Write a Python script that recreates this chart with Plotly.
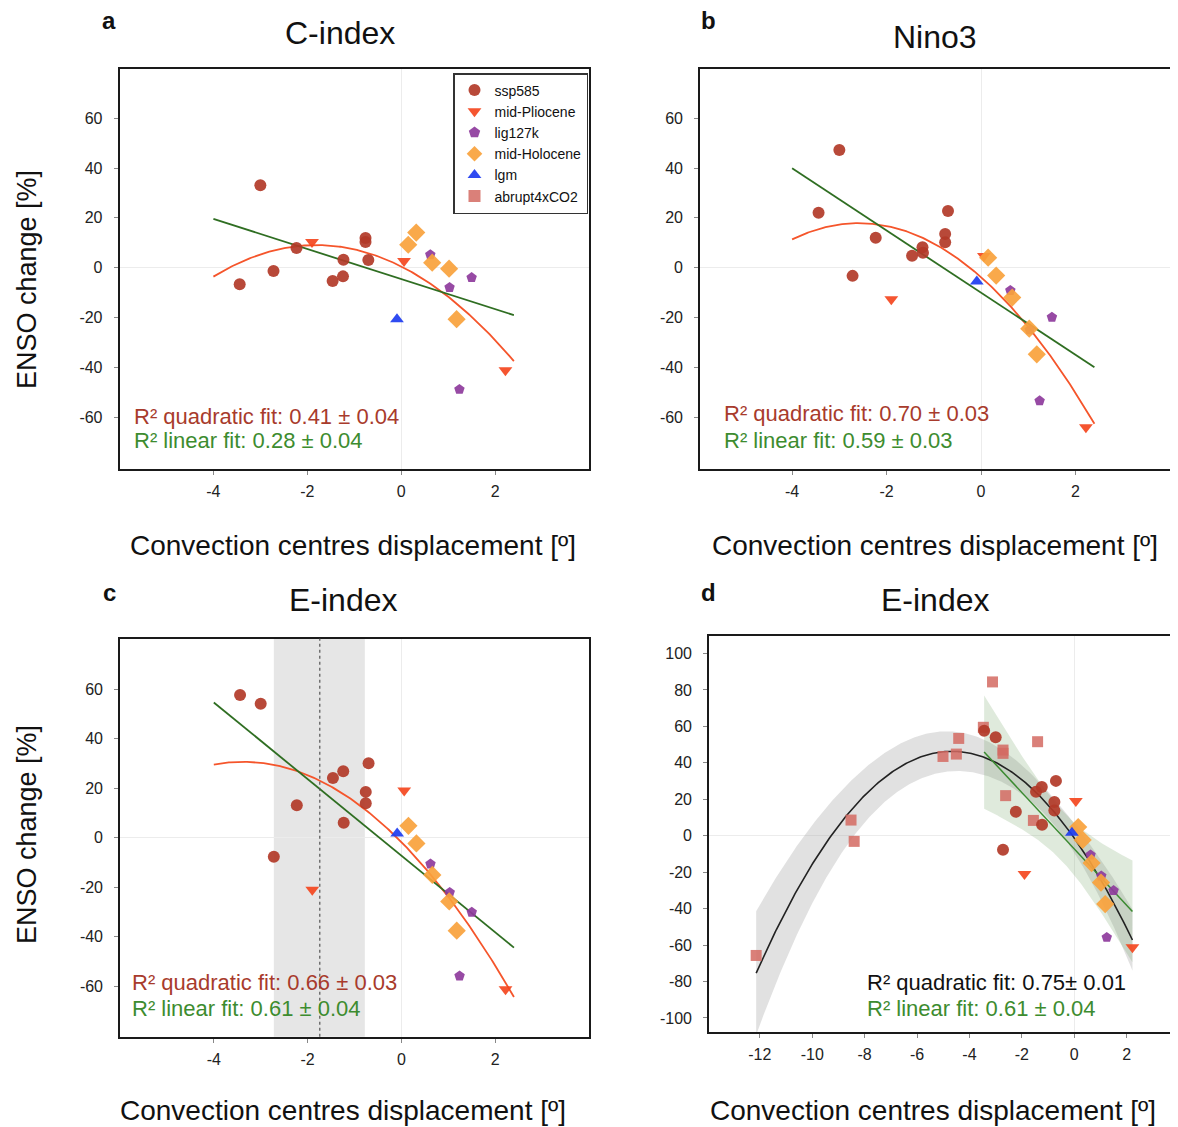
import numpy as np
import plotly.graph_objects as go

W, H = 1178, 1127
OX, OY = 8, 8            # page body margin of the browser
WF, HF = W - OX, H - OY  # figure size so that the page fits the window
FONT = "Liberation Sans, Arial, Helvetica, sans-serif"

# ---------------- data ----------------
experiments = ["ssp585", "mid-Pliocene", "lig127k", "mid-Holocene", "lgm"]

# convection centres displacement [deg] (same for every index)
x_ssp585 = [-3.44, -3.00, -2.72, -2.23, -1.46, -1.24, -1.23, -0.76, -0.76, -0.70]
x_pliocene = [-1.90, 0.06, 2.22]
x_lig127k = [0.62, 1.03, 1.50, 1.24]
x_holocene = [0.15, 0.32, 0.66, 1.02, 1.18]
x_lgm = [-0.09]

# ENSO change [%] — C-index
c_ssp585 = [-6.7, 33.1, -1.3, 7.9, -5.4, -3.5, 3.2, 11.9, 10.3, 3.1]
c_pliocene = [10.3, 2.7, -41.2]
c_lig127k = [5.2, -8.0, -4.0, -48.9]
c_holocene = [9.2, 14.1, 2.0, -0.4, -20.7]
c_lgm = [-20.7]

# ENSO change [%] — Nino3
n_ssp585 = [22.1, 47.3, -3.3, 12.0, 4.8, 8.2, 6.0, 13.5, 10.2, 22.8]
n_pliocene = [-12.7, 4.7, -64.1]
n_lig127k = [-9.2, -25.0, -19.9, -53.5]
n_holocene = [4.0, -3.2, -12.0, -24.5, -34.8]
n_lgm = [-5.6]

# ENSO change [%] — E-index
e_ssp585 = [57.6, 54.1, -7.7, 13.1, 24.1, 26.8, 6.0, 18.5, 13.9, 30.1]
e_pliocene = [-21.0, 19.1, -61.2]
e_lig127k = [-10.6, -22.1, -30.1, -55.8]
e_holocene = [4.8, -2.3, -15.0, -25.7, -37.5]
e_lgm = [1.7]

# abrupt4xCO2 (E-index, panel d only)
x_abrupt = [-12.14, -8.52, -8.40, -5.01, -4.50, -4.41, -3.47, -3.12, -2.72, -2.72, -2.62, -1.56, -1.40]
e_abrupt = [-65.7, 8.6, -3.1, 43.5, 44.8, 53.4, 59.5, 84.4, 47.0, 45.2, 22.0, 8.4, 51.6]

# E-index shaded interval and centre (panel c)
band_c = [-2.72, -0.78]
centre_c = -1.74

# tick values
xt_abc = [-4, -2, 0, 2]
yt_abc = [-60, -40, -20, 0, 20, 40, 60]
xt_d = [-12, -10, -8, -6, -4, -2, 0, 2]
yt_d = [-100, -80, -60, -40, -20, 0, 20, 40, 60, 80, 100]

r2_text = {
    "a": ("R² quadratic fit: 0.41 ± 0.04", "R² linear fit: 0.28 ± 0.04"),
    "b": ("R² quadratic fit: 0.70 ± 0.03", "R² linear fit: 0.59 ± 0.03"),
    "c": ("R² quadratic fit: 0.66 ± 0.03", "R² linear fit: 0.61 ± 0.04"),
    "d": ("R² quadratic fit: 0.75± 0.01", "R² linear fit: 0.61 ± 0.04"),
}

# ---------------- styles ----------------
style = {
    "ssp585": dict(symbol="circle", color="#b23a28", size=12),
    "mid-Pliocene": dict(symbol="triangle-down", color="#f4471e", size=12),
    "lig127k": dict(symbol="pentagon", color="#8e3b9c", size=11),
    "mid-Holocene": dict(symbol="diamond", color="#f9a23c", size=14),
    "lgm": dict(symbol="triangle-up", color="#1d3cf0", size=12),
    "abrupt4xCO2": dict(symbol="square", color="#d46a61", size=11),
}

xs_all = [x_ssp585, x_pliocene, x_lig127k, x_holocene, x_lgm]
panels = {
    "a": [c_ssp585, c_pliocene, c_lig127k, c_holocene, c_lgm],
    "b": [n_ssp585, n_pliocene, n_lig127k, n_holocene, n_lgm],
    "c": [e_ssp585, e_pliocene, e_lig127k, e_holocene, e_lgm],
    "d": [e_ssp585, e_pliocene, e_lig127k, e_holocene, e_lgm],
}


def px(x):
    return (x - OX) / WF


def py(y):
    return 1 - (y - OY) / HF


# plot boxes in window pixels (left, right, top, bottom)
boxes = {
    "a": (119.5, 589, 68.5, 469.3),
    "b": (700, 1170, 68.5, 469.3),
    "c": (120, 589, 638.5, 1036.7),
    "d": (709, 1177, 636, 1032),
}
xranges = {"a": [-6, 4], "b": [-5.95, 4.0], "c": [-6, 4], "d": [-13.94, 3.92]}
yranges = {"a": [-81, 80], "b": [-81, 80], "c": [-80.3, 80.4], "d": [-107.7, 109.6]}
axis_id = {"a": "", "b": "2", "c": "3", "d": "4"}


def fit(x, y, deg, xs, tval=2.05):
    x = np.asarray(x, float)
    y = np.asarray(y, float)
    V = np.vander(x, deg + 1)
    beta, *_ = np.linalg.lstsq(V, y, rcond=None)
    r = y - V @ beta
    s2 = (r @ r) / (len(x) - deg - 1)
    cov = s2 * np.linalg.inv(V.T @ V)
    Vs = np.vander(xs, deg + 1)
    yhat = Vs @ beta
    se = np.sqrt(np.einsum("ij,jk,ik->i", Vs, cov, Vs))
    return yhat, yhat - tval * se, yhat + tval * se


fig = go.Figure()

for key in ["a", "b", "c", "d"]:
    sid = axis_id[key]
    xa, ya = "x" + sid, "y" + sid
    ys = panels[key]
    X = np.concatenate([np.asarray(v, float) for v in xs_all])
    Y = np.concatenate([np.asarray(v, float) for v in ys])

    if key != "d":
        xf = np.linspace(-4.0, 2.4, 200)
        yq, _, _ = fit(X, Y, 2, xf)
        yl, _, _ = fit(X, Y, 1, xf)
        fig.add_trace(go.Scatter(x=xf, y=yq, mode="lines", line=dict(color="#f5552b", width=1.8),
                                 xaxis=xa, yaxis=ya, showlegend=False, hoverinfo="skip"))
        fig.add_trace(go.Scatter(x=xf, y=yl, mode="lines", line=dict(color="#2f6e22", width=1.8),
                                 xaxis=xa, yaxis=ya, showlegend=False, hoverinfo="skip"))
    else:
        XA = np.concatenate([X, np.asarray(x_abrupt, float)])
        YA = np.concatenate([Y, np.asarray(e_abrupt, float)])
        xq = np.linspace(XA.min(), XA.max(), 300)
        yq, lo_q, hi_q = fit(XA, YA, 2, xq, tval=2.1)
        xl = np.linspace(X.min(), X.max(), 100)
        yl, lo_l, hi_l = fit(X, Y, 1, xl, tval=3.4)
        fig.add_trace(go.Scatter(x=np.concatenate([xq, xq[::-1]]), y=np.concatenate([hi_q, lo_q[::-1]]),
                                 fill="toself", mode="lines", line=dict(width=0),
                                 fillcolor="rgba(170,170,170,0.35)", xaxis=xa, yaxis=ya,
                                 showlegend=False, hoverinfo="skip"))
        fig.add_trace(go.Scatter(x=np.concatenate([xl, xl[::-1]]), y=np.concatenate([hi_l, lo_l[::-1]]),
                                 fill="toself", mode="lines", line=dict(width=0),
                                 fillcolor="rgba(110,160,95,0.22)", xaxis=xa, yaxis=ya,
                                 showlegend=False, hoverinfo="skip"))
        fig.add_trace(go.Scatter(x=xq, y=yq, mode="lines", line=dict(color="#222222", width=1.6),
                                 xaxis=xa, yaxis=ya, showlegend=False, hoverinfo="skip"))
        fig.add_trace(go.Scatter(x=xl, y=yl, mode="lines", line=dict(color="#3a8a30", width=1.5),
                                 xaxis=xa, yaxis=ya, showlegend=False, hoverinfo="skip"))
        st = style["abrupt4xCO2"]
        fig.add_trace(go.Scatter(x=x_abrupt, y=e_abrupt, mode="markers", name="abrupt4xCO2",
                                 marker=dict(symbol=st["symbol"], color=st["color"], size=st["size"], opacity=0.85),
                                 xaxis=xa, yaxis=ya, showlegend=True, legendrank=6))

    for i, exp in enumerate(experiments):
        st = style[exp]
        fig.add_trace(go.Scatter(x=xs_all[i], y=ys[i], mode="markers", name=exp,
                                 marker=dict(symbol=st["symbol"], color=st["color"], size=st["size"], opacity=0.92),
                                 xaxis=xa, yaxis=ya, showlegend=(key == "a"), legendrank=i + 1))


def labels(vals):
    return [str(v) for v in vals]  # plain hyphen-minus as in the reference


layout_axes = {}
for key in ["a", "b", "c", "d"]:
    l, r, t, b = boxes[key]
    sid = axis_id[key]
    common = dict(showline=True, linecolor="#1a1a1a", linewidth=1.6, mirror=True,
                  ticks="outside", ticklen=4, tickcolor="#888888", tickwidth=1,
                  showgrid=False, zeroline=True, zerolinecolor="#ececec", zerolinewidth=1,
                  tickfont=dict(family=FONT, size=16, color="#222222"))
    xa = dict(common, domain=[px(l), px(r)], range=xranges[key], anchor="y" + sid,
              ticklabelstandoff=3)
    ya = dict(common, domain=[py(b), py(t)], range=yranges[key], anchor="x" + sid,
              ticklabelstandoff=8)
    if key == "d":
        xa.update(tickvals=xt_d, ticktext=labels(xt_d))
        ya.update(tickvals=yt_d, ticktext=labels(yt_d))
    else:
        xa.update(tickvals=xt_abc, ticktext=labels(xt_abc))
        ya.update(tickvals=yt_abc, ticktext=labels(yt_abc))
    layout_axes["xaxis" + sid] = xa
    layout_axes["yaxis" + sid] = ya

fig.update_layout(**layout_axes)

# shaded band and centre line in panel c
fig.add_shape(type="rect", xref="x3", yref="paper", x0=band_c[0], x1=band_c[1],
              y0=py(boxes["c"][3]), y1=py(boxes["c"][2]), fillcolor="#e6e6e6", line=dict(width=0), layer="below")
fig.add_shape(type="line", xref="x3", yref="paper", x0=centre_c, x1=centre_c,
              y0=py(boxes["c"][3]), y1=py(boxes["c"][2]), line=dict(color="#555555", width=1.2, dash="dot"),
              layer="above")

annotations = []


def ann(text, x, y, size, color="#111111", bold=False, xanchor="center", textangle=0):
    if bold:
        text = "<b>" + text + "</b>"
    annotations.append(dict(text=text, x=px(x), y=py(y), xref="paper", yref="paper",
                            xanchor=xanchor, yanchor="middle", showarrow=False, textangle=textangle,
                            font=dict(family=FONT, size=size, color=color)))


# panel letters and titles
ann("a", 109, 20, 24, bold=True)
ann("b", 708, 20, 24, bold=True)
ann("c", 109, 592, 24, bold=True)
ann("d", 708, 592, 24, bold=True)
ann("C-index", 340, 33, 32)
ann("Nino3", 935, 37, 32)
ann("E-index", 343, 600, 32)
ann("E-index", 935, 600, 32)

xtitle = "Convection centres displacement [º]"
ann(xtitle, 353, 545, 28)
ann(xtitle, 935, 545, 28)
ann(xtitle, 343, 1110, 28)
ann(xtitle, 933, 1110, 28)
ann("ENSO change [%]", 27, 280, 27, textangle=-90)
ann("ENSO change [%]", 27, 835, 27, textangle=-90)

# R² texts
red_t, green_t = "#a83b2c", "#3d8c2f"
ann(r2_text["a"][0], 132, 416, 22, red_t, xanchor="left")
ann(r2_text["a"][1], 132, 440, 22, green_t, xanchor="left")
ann(r2_text["b"][0], 722, 414, 22, red_t, xanchor="left")
ann(r2_text["b"][1], 722, 441, 22, green_t, xanchor="left")
ann(r2_text["c"][0], 130, 982, 22, red_t, xanchor="left")
ann(r2_text["c"][1], 130, 1008, 22, green_t, xanchor="left")
ann(r2_text["d"][0], 865, 982, 22, "#111111", xanchor="left")
ann(r2_text["d"][1], 865, 1008, 22, green_t, xanchor="left")

fig.update_layout(
    width=WF, height=HF,
    margin=dict(l=0, r=0, t=0, b=0),
    paper_bgcolor="white", plot_bgcolor="white",
    annotations=annotations,
    showlegend=True,
    legend=dict(x=px(588), y=py(73), xanchor="right", yanchor="top",
                bgcolor="white", bordercolor="#333333", borderwidth=1.5,
                font=dict(family=FONT, size=14, color="#111111"),
                tracegroupgap=0, itemsizing="constant", itemwidth=30),
    font=dict(family=FONT),
)

fig.write_html("out.html")
